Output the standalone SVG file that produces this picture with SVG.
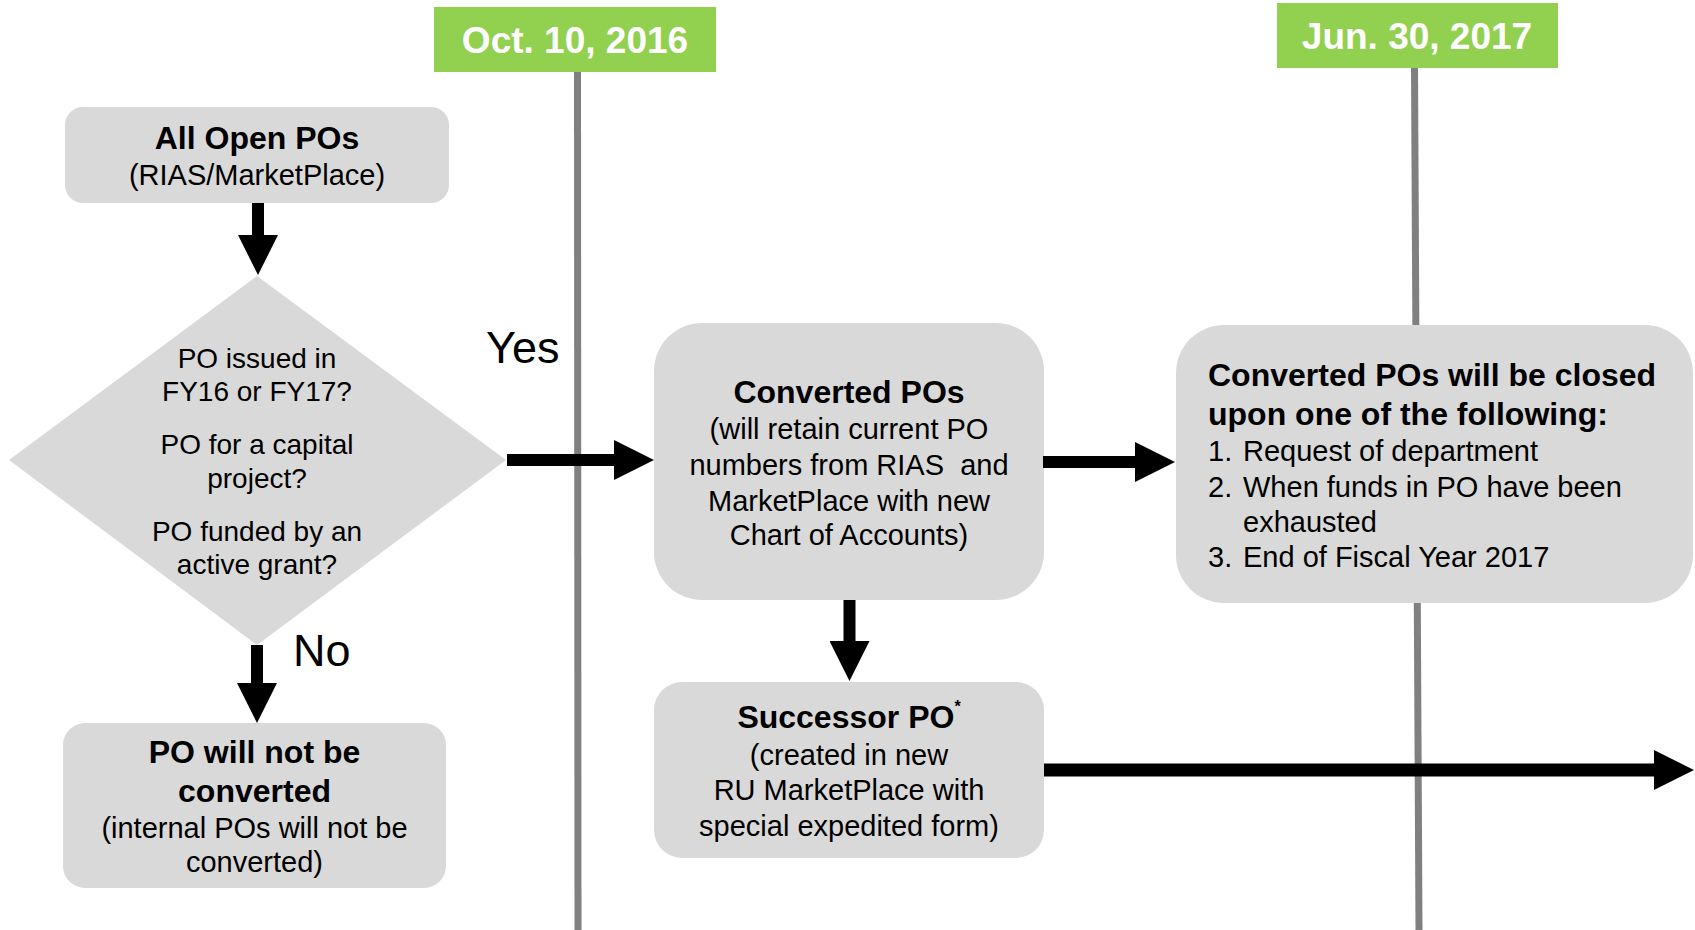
<svg xmlns="http://www.w3.org/2000/svg" width="1695" height="930" viewBox="0 0 1695 930">
<style>
  .box { fill: #D9D9D9; }
  .date { fill: #92D050; }
  .tl { stroke: #808080; stroke-width: 7; fill: none; }
  .t { font-family: "Liberation Sans", Arial, sans-serif; fill: #000; }
  .c { text-anchor: middle; }
  .b { font-weight: bold; font-size: 32px; }
  .r { font-size: 29px; }
  .d { font-size: 28px; }
  .lbl { font-size: 45px; }
  .dt { font-family: "Liberation Sans", Arial, sans-serif; font-weight: bold; font-size: 37px; fill: #fff; text-anchor: middle; }
  .conn { stroke: #000; stroke-width: 12; fill: none; marker-end: url(#head); }
</style>
<defs>
  <marker id="head" markerUnits="userSpaceOnUse" viewBox="0 0 40 40" refX="1" refY="20" markerWidth="40" markerHeight="40" orient="auto">
    <path d="M0,0 L40,20 L0,40 Z" fill="#000"/>
  </marker>
</defs>
<rect width="1695" height="930" fill="#fff"/>

<g id="timeline-oct">
  <line class="tl" x1="577.5" y1="70" x2="578" y2="930"/>
  <rect class="date" x="434" y="7" width="282" height="65"/>
  <text class="dt" x="575" y="53">Oct. 10, 2016</text>
</g>
<g id="timeline-jun">
  <line class="tl" x1="1414.5" y1="66" x2="1419" y2="930"/>
  <rect class="date" x="1277" y="3" width="281" height="65"/>
  <text class="dt" x="1417" y="49">Jun. 30, 2017</text>
</g>

<g id="all-open-pos">
  <rect class="box" x="65" y="107" width="384" height="96" rx="18"/>
  <text class="t c b" x="257" y="149">All Open POs</text>
  <text class="t c r" x="257" y="185">(RIAS/MarketPlace)</text>
</g>

<g id="decision">
  <polygon class="box" points="257,276 506,460 257,645 9,460"/>
  <text class="t c d" x="257" y="368">PO issued in</text>
  <text class="t c d" x="257" y="401">FY16 or FY17?</text>
  <text class="t c d" x="257" y="454">PO for a capital</text>
  <text class="t c d" x="257" y="488">project?</text>
  <text class="t c d" x="257" y="541">PO funded by an</text>
  <text class="t c d" x="257" y="574">active grant?</text>
</g>

<g id="not-converted">
  <rect class="box" x="63" y="723" width="383" height="165" rx="22"/>
  <text class="t c b" x="254.5" y="763">PO will not be</text>
  <text class="t c b" x="254.5" y="802">converted</text>
  <text class="t c r" x="254.5" y="838">(internal POs will not be</text>
  <text class="t c r" x="254.5" y="872">converted)</text>
</g>

<g id="converted-pos">
  <rect class="box" x="654" y="323" width="390" height="277" rx="48"/>
  <text class="t c b" x="849" y="403">Converted POs</text>
  <text class="t c r" x="849" y="439">(will retain current PO</text>
  <text class="t c r" x="849" y="475" xml:space="preserve">numbers from RIAS  and</text>
  <text class="t c r" x="849" y="511">MarketPlace with new</text>
  <text class="t c r" x="849" y="545">Chart of Accounts)</text>
</g>

<g id="closed">
  <rect class="box" x="1176" y="325" width="517" height="278" rx="48"/>
  <text class="t b" x="1208" y="386">Converted POs will be closed</text>
  <text class="t b" x="1208" y="425">upon one of the following:</text>
  <text class="t r" x="1208" y="461">1.</text>
  <text class="t r" x="1243" y="461">Request of department</text>
  <text class="t r" x="1208" y="497">2.</text>
  <text class="t r" x="1243" y="497">When funds in PO have been</text>
  <text class="t r" x="1243" y="532">exhausted</text>
  <text class="t r" x="1208" y="567">3.</text>
  <text class="t r" x="1243" y="567">End of Fiscal Year 2017</text>
</g>

<g id="successor-po">
  <rect class="box" x="654" y="682" width="390" height="176" rx="28"/>
  <text class="t c b" x="849" y="728">Successor PO<tspan font-size="16" dy="-16">*</tspan></text>
  <text class="t c r" x="849" y="765">(created in new</text>
  <text class="t c r" x="849" y="800">RU MarketPlace with</text>
  <text class="t c r" x="849" y="836">special expedited form)</text>
</g>

<g id="labels">
  <text class="t lbl" x="486" y="363">Yes</text>
  <text class="t lbl" x="293" y="666">No</text>
</g>

<g id="connectors">
  <path class="conn" d="M258,203 L258,236"/>
  <path class="conn" d="M507,460 L615,460"/>
  <path class="conn" d="M1043,462 L1136,462"/>
  <path class="conn" d="M849.5,600 L849.5,642"/>
  <path class="conn" d="M1044,770 L1655,770" style="stroke-width:13"/>
  <path class="conn" d="M257,645 L257,684"/>
</g>
</svg>
